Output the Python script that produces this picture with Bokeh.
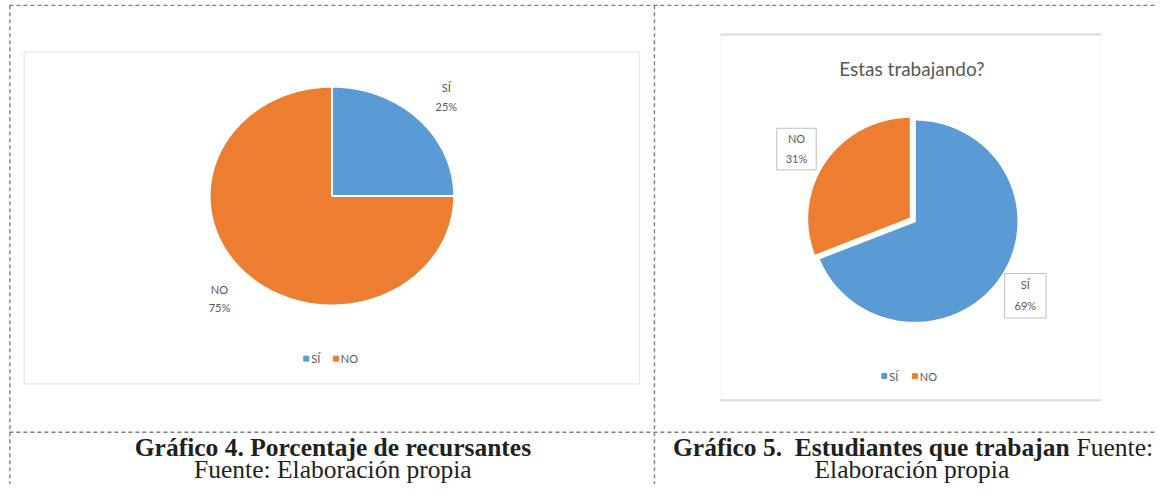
import numpy as np
from bokeh.plotting import figure
from bokeh.models import Range1d
from bokeh.core.properties import value
from bokeh.embed import file_html
from bokeh.resources import INLINE

# ---------------- data ----------------
cats = ["SÍ", "NO"]
recursantes = [25, 75]          # Gráfico 4
trabajando = [69, 31]           # Gráfico 5
colors = ["#5B9BD5", "#ED7D31"]
title2 = "Estas trabajando?"
cap4_bold = "Gráfico 4. Porcentaje de recursantes"
cap4_norm = "Fuente: Elaboración propia"
cap5_bold = "Gráfico 5.\u00a0 Estudiantes que trabajan"
cap5_norm1 = "Fuente:"
cap5_norm2 = "Elaboración propia"

GRAY = "#595959"
LABEL_FONT = value("Lato")
SERIF = value("Liberation Serif")
CAP_SIZE = "25.5px"

# layout coordinates: x = reference pixel x, y = -reference pixel y
p = figure(width=1157, height=484, x_range=Range1d(0, 1173), y_range=Range1d(-500, 0),
           output_backend="svg", toolbar_location=None, min_border=0)
p.axis.visible = False
p.grid.visible = False
p.outline_line_color = None
p.background_fill_color = "white"


def Y(v):
    return -np.asarray(v, dtype=float)


def pie_patches(vals, cx, cy, rx, ry, explode):
    vals = np.asarray(vals, dtype=float)
    frac = vals / vals.sum()
    ends = np.cumsum(frac)
    starts = ends - frac
    xs, ys = [], []
    for s, e, ex in zip(starts, ends, explode):
        t = np.linspace(s, e, 200) * 2 * np.pi
        mid = (s + e) * np.pi
        ox, oy = ex * np.sin(mid), ex * np.cos(mid)
        x = np.concatenate([[cx + ox], cx + ox + rx * np.sin(t)])
        y = np.concatenate([[cy + oy], cy + oy + ry * np.cos(t)])
        xs.append(list(x))
        ys.append(list(y))
    return xs, ys


# ---------------- dashed table borders ----------------
dash = dict(line_color="#7f7f7f", line_width=1.4, line_dash="4 3")
p.line([9, 1173], Y([5, 5]), **dash)
p.line([9.5, 9.5], Y([5, 500]), **dash)
p.line([663, 663], Y([5, 500]), **dash)
p.line([9, 1173], Y([446, 446]), **dash)

# ---------------- chart 4 box ----------------
p.quad(left=24, right=648, top=Y(53), bottom=Y(396), fill_color="white",
       line_color="#E6E6E6", line_width=1.2)

# pie 4 (slightly elliptical, as in the picture)
xs, ys = pie_patches(recursantes, 336, -202, 124, 113, [0, 0])
p.patches(xs, ys, fill_color=colors, line_color="white", line_width=2)

p.text(x=[452, 452], y=Y([90, 110]), text=[cats[0], f"{recursantes[0]}%"],
       text_font=LABEL_FONT, text_font_size="11px", text_color=GRAY,
       text_align="center", text_baseline="middle")
p.text(x=[222, 222], y=Y([299, 317]), text=[cats[1], f"{recursantes[1]}%"],
       text_font=LABEL_FONT, text_font_size="11px", text_color=GRAY,
       text_align="center", text_baseline="middle")

# legend 4
p.scatter(x=[310, 340], y=Y([370, 370]), marker="square", size=5, color=colors)
p.text(x=[315, 345], y=Y([370, 370]), text=cats, text_font=LABEL_FONT,
       text_font_size="11px", text_color=GRAY, text_align="left", text_baseline="middle")

# ---------------- chart 5 box ----------------
p.quad(left=730, right=1116, top=Y(35), bottom=Y(413), fill_color="white",
       line_color="#F6F6F6", line_width=1)
p.line([730, 1116], Y([35, 35]), line_color="#DADADA", line_width=2)
p.line([730, 1116], Y([413, 413]), line_color="#DADADA", line_width=2)

p.text(x=[924], y=Y([70]), text=[title2], text_font=LABEL_FONT, text_font_size="19px",
       text_color=GRAY, text_align="center", text_baseline="middle")

xs, ys = pie_patches(trabajando, 927, -228, 105, 105, [0, 5])
p.patches(xs, ys, fill_color=colors, line_color="white", line_width=2)

# callout boxes
p.quad(left=[787, 1018], right=[827, 1060], top=Y([132, 282]), bottom=Y([175, 328]),
       fill_color="white", line_color="#BFBFBF", line_width=1)
p.text(x=[807, 807], y=Y([143, 163]), text=[cats[1], f"{trabajando[1]}%"],
       text_font=LABEL_FONT, text_font_size="11px", text_color=GRAY,
       text_align="center", text_baseline="middle")
p.text(x=[1039, 1039], y=Y([293, 315]), text=[cats[0], f"{trabajando[0]}%"],
       text_font=LABEL_FONT, text_font_size="11px", text_color=GRAY,
       text_align="center", text_baseline="middle")

# legend 5
p.scatter(x=[896, 927], y=Y([388, 388]), marker="square", size=5, color=colors)
p.text(x=[901, 932], y=Y([388, 388]), text=cats, text_font=LABEL_FONT,
       text_font_size="11px", text_color=GRAY, text_align="left", text_baseline="middle")

# ---------------- captions ----------------
cap = dict(text_font=SERIF, text_font_size=CAP_SIZE, text_color="#231F20",
           text_baseline="middle")
p.text(x=[337], y=Y([462]), text=[cap4_bold], text_font_style="bold",
       text_align="center", **cap)
p.text(x=[337], y=Y([484]), text=[cap4_norm], text_align="center", **cap)
p.text(x=[1084], y=Y([462]), text=[cap5_bold], text_font_style="bold",
       text_align="right", **cap)
p.text(x=[1091], y=Y([462]), text=[cap5_norm1], text_align="left", **cap)
p.text(x=[924], y=Y([484]), text=[cap5_norm2], text_align="center", **cap)

open("out.html", "w").write(file_html(p, INLINE))
